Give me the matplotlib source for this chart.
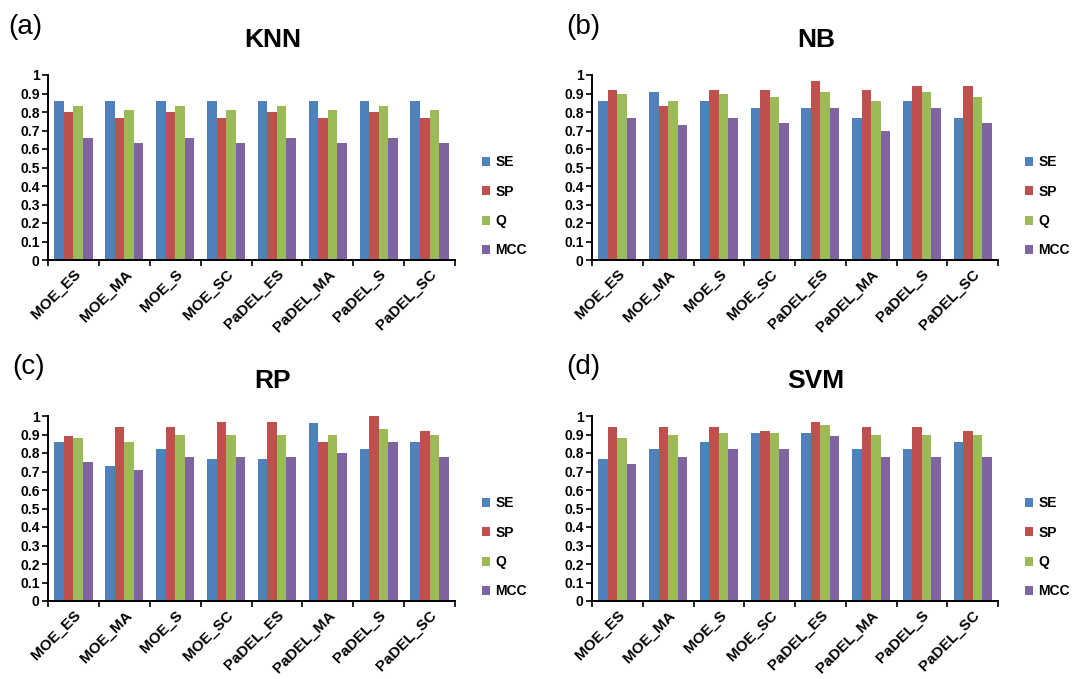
import matplotlib
matplotlib.use("Agg")
import matplotlib.pyplot as plt
import numpy as np

plt.rcParams['font.family'] = ['Liberation Sans', 'DejaVu Sans']

# descriptor sets on the x axis
categories = ["MOE_ES", "MOE_MA", "MOE_S", "MOE_SC",
              "PaDEL_ES", "PaDEL_MA", "PaDEL_S", "PaDEL_SC"]
metrics = ["SE", "SP", "Q", "MCC"]
colors = ["#4F81BD", "#C0504D", "#9BBB59", "#8064A2"]

# values, one list per metric
knn_se = [0.86, 0.86, 0.86, 0.86, 0.86, 0.86, 0.86, 0.86]
knn_sp = [0.80, 0.77, 0.80, 0.77, 0.80, 0.77, 0.80, 0.77]
knn_q = [0.83, 0.81, 0.83, 0.81, 0.83, 0.81, 0.83, 0.81]
knn_mcc = [0.66, 0.63, 0.66, 0.63, 0.66, 0.63, 0.66, 0.63]

nb_se = [0.86, 0.91, 0.86, 0.82, 0.82, 0.77, 0.86, 0.77]
nb_sp = [0.92, 0.83, 0.92, 0.92, 0.97, 0.92, 0.94, 0.94]
nb_q = [0.90, 0.86, 0.90, 0.88, 0.91, 0.86, 0.91, 0.88]
nb_mcc = [0.77, 0.73, 0.77, 0.74, 0.82, 0.70, 0.82, 0.74]

rp_se = [0.86, 0.73, 0.82, 0.77, 0.77, 0.96, 0.82, 0.86]
rp_sp = [0.89, 0.94, 0.94, 0.97, 0.97, 0.86, 1.00, 0.92]
rp_q = [0.88, 0.86, 0.90, 0.90, 0.90, 0.90, 0.93, 0.90]
rp_mcc = [0.75, 0.71, 0.78, 0.78, 0.78, 0.80, 0.86, 0.78]

svm_se = [0.77, 0.82, 0.86, 0.91, 0.91, 0.82, 0.82, 0.86]
svm_sp = [0.94, 0.94, 0.94, 0.92, 0.97, 0.94, 0.94, 0.92]
svm_q = [0.88, 0.90, 0.91, 0.91, 0.95, 0.90, 0.90, 0.90]
svm_mcc = [0.74, 0.78, 0.82, 0.82, 0.89, 0.78, 0.78, 0.78]

panels = [
    ("(a)", "KNN", [knn_se, knn_sp, knn_q, knn_mcc]),
    ("(b)", "NB", [nb_se, nb_sp, nb_q, nb_mcc]),
    ("(c)", "RP", [rp_se, rp_sp, rp_q, rp_mcc]),
    ("(d)", "SVM", [svm_se, svm_sp, svm_q, svm_mcc]),
]

W, H = 1075, 679
fig = plt.figure(figsize=(W / 100, H / 100), dpi=100)

# axes boxes in pixels: left, right, top (y=1), bottom (y=0)
boxes = [(48, 455, 75, 260), (592, 998, 75, 260),
         (48, 455, 416, 601), (592, 998, 416, 601)]
# where the panel letters start (pixels)
tag_pos = [(8, 27), (566, 27), (12, 367), (566, 367)]

bar_w = 0.1875
x = np.arange(len(categories))

for (tag, name, series), (l, r, t, b), (tx, ty) in zip(panels, boxes, tag_pos):
    ax = fig.add_axes([l / W, 1 - b / H, (r - l) / W, (b - t) / H])
    for i, vals in enumerate(series):
        ax.bar(x + (i - 1.5) * bar_w, vals, bar_w, color=colors[i],
               label=metrics[i], linewidth=0)

    ax.set_xlim(-0.5, len(categories) - 0.5)
    ax.set_ylim(0, 1)
    ax.set_yticks(np.arange(0, 1.01, 0.1))
    ax.set_yticklabels(["0", "0.1", "0.2", "0.3", "0.4", "0.5",
                        "0.6", "0.7", "0.8", "0.9", "1"],
                       fontsize=10, fontweight="bold")

    # category labels sit between the tick marks, like Excel
    ax.set_xticks(np.arange(-0.5, len(categories), 1.0))
    ax.set_xticklabels([])
    ax.set_xticks(x, minor=True)
    ax.set_xticklabels(categories, minor=True, rotation=45, ha="right",
                       rotation_mode="anchor", fontsize=11, fontweight="bold")
    ax.tick_params(axis="x", which="minor", length=0, pad=5)
    ax.tick_params(axis="x", which="major", length=4, width=1.2, direction="out")
    ax.tick_params(axis="y", length=4, width=1.2, direction="out", pad=2)

    for side in ["top", "right"]:
        ax.spines[side].set_visible(False)
    for side in ["left", "bottom"]:
        ax.spines[side].set_linewidth(1.4)

    fig.text((l + (r - l) / 2 + 21) / W, 1 - (t - 35) / H, name, fontsize=19,
             fontweight="bold", ha="center", va="center")
    fig.text(tx / W, 1 - ty / H, tag, fontsize=20, ha="left", va="center")

    ax.legend(loc="center left", bbox_to_anchor=((r + 14 - l) / (r - l), 0.29),
              frameon=False, handlelength=0.6, handleheight=0.6,
              handletextpad=0.4, labelspacing=1.1,
              prop={"size": 10, "weight": "bold"})

plt.savefig("out.png", dpi=100)
